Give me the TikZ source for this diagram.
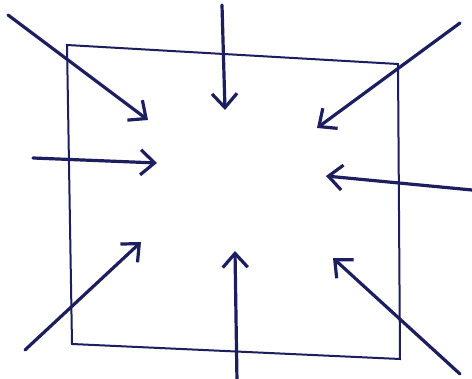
\documentclass[tikz,border=0pt]{standalone}
\usetikzlibrary{arrows.meta}
\definecolor{ink}{RGB}{28,30,95}
\begin{document}
\begin{tikzpicture}[x=1pt,y=-1pt,
  frame/.style={draw=ink,line width=2pt,line join=miter},
  push/.style={draw=ink,line width=3.2pt,line cap=round,
    -{Straight Barb[length=14pt,width=25pt,line width=3.2pt]}}]
\useasboundingbox[fill=white] (0,0) rectangle (472,379);
% square
\coordinate (TL) at (67,45);
\coordinate (TR) at (398,64);
\coordinate (BR) at (400,359);
\coordinate (BL) at (72,344);
\draw[frame] (TL) -- (TR) -- (BR) -- (BL) -- cycle;
% arrow ends
\coordinate (s1) at (8,15);    \coordinate (t1) at (148,120);
\coordinate (s2) at (222,5);   \coordinate (t2) at (225,110);
\coordinate (s3) at (460,23);  \coordinate (t3) at (317,128);
\coordinate (s4) at (33,158);  \coordinate (t4) at (157,163);
\coordinate (s5) at (472,190); \coordinate (t5) at (326,176);
\coordinate (s6) at (25,350);  \coordinate (t6) at (141,242);
\coordinate (s7) at (237,382); \coordinate (t7) at (235,251);
\coordinate (s8) at (460,374); \coordinate (t8) at (333,258);
\foreach \i in {1,...,8} \draw[push] (s\i) -- (t\i);
\end{tikzpicture}
\end{document}
